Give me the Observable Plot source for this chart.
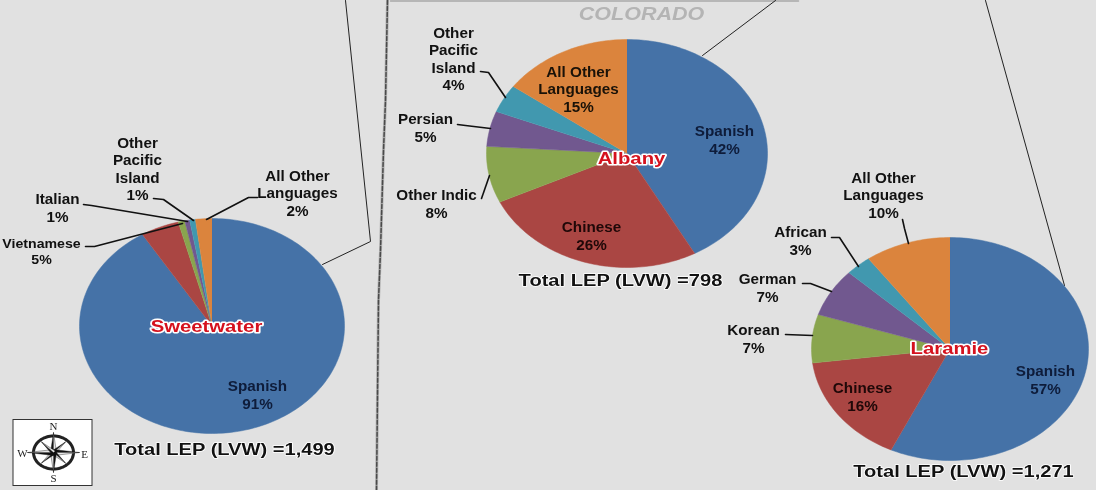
<!DOCTYPE html>
<html>
<head>
<meta charset="utf-8">
<style>
html,body{margin:0;padding:0;background:#e1e1e1;overflow:hidden}
svg{display:block}
</style>
<script src="https://cdn.jsdelivr.net/npm/d3@7"></script>
<script src="https://cdn.jsdelivr.net/npm/@observablehq/plot@0.6"></script>
</head>
<body>
<div id="chart"></div>
<script>
// ---- data ----
const sweetwaterLanguages = ["Spanish", "Vietnamese", "Italian", "Unlabeled", "Other Pacific Island", "All Other Languages"];
const sweetwaterShares = [91.2, 4.7, 0.8, 0.6, 0.7, 2.0];
const albanyLanguages = ["Spanish", "Chinese", "Other Indic", "Persian", "Other Pacific Island", "All Other Languages"];
const albanyShares = [42, 26, 8, 5, 4, 15];
const laramieLanguages = ["Spanish", "Chinese", "Korean", "German", "African", "All Other Languages"];
const laramieShares = [57, 16, 7, 7, 3, 10];
const sliceColors = ["#4572a7", "#aa4643", "#89a54e", "#71588f", "#4198af", "#db843d"];

// ---- layout (pixel space of the page) ----
const W = 1096, H = 490;
const pies = [
  {name: "Sweetwater", languages: sweetwaterLanguages, shares: sweetwaterShares, cx: 211.5, cy: 325.5, rx: 132.5, ry: 107.5},
  {name: "Albany", languages: albanyLanguages, shares: albanyShares, cx: 626.5, cy: 153, rx: 140.5, ry: 114},
  {name: "Laramie", languages: laramieLanguages, shares: laramieShares, cx: 949.5, cy: 348.5, rx: 138.5, ry: 111.5}
];
const labels = [
  {t: "Other\nPacific\nIsland\n1%", x: 137, y: 168},
  {t: "All Other\nLanguages\n2%", x: 297, y: 192},
  {t: "Italian\n1%", x: 57, y: 207},
  {t: "Vietnamese\n5%", x: 41, y: 250, s: 13},
  {t: "Spanish\n91%", x: 257, y: 394, f: "#0e1c3a"},
  {t: "Other\nPacific\nIsland\n4%", x: 453, y: 58},
  {t: "All Other\nLanguages\n15%", x: 578, y: 88, f: "#1a1208"},
  {t: "Persian\n5%", x: 425, y: 127},
  {t: "Other Indic\n8%", x: 436, y: 203},
  {t: "Spanish\n42%", x: 724, y: 139, f: "#0e1c3a"},
  {t: "Chinese\n26%", x: 591, y: 235, f: "#1f0808"},
  {t: "All Other\nLanguages\n10%", x: 883, y: 194},
  {t: "African\n3%", x: 800, y: 240},
  {t: "German\n7%", x: 767, y: 287},
  {t: "Korean\n7%", x: 753, y: 338},
  {t: "Spanish\n57%", x: 1045, y: 379, f: "#0e1c3a"},
  {t: "Chinese\n16%", x: 862, y: 396, f: "#1f0808"}
];
const countyNames = [
  {t: "Sweetwater", x: 206, y: 326, s: 16.5},
  {t: "Albany", x: 631, y: 158, s: 16.5},
  {t: "Laramie", x: 949, y: 348, s: 16.5}
];
const totals = [
  {t: "Total LEP (LVW) =1,499", x: 224, y: 449},
  {t: "Total LEP (LVW) =798", x: 620, y: 280},
  {t: "Total LEP (LVW) =1,271", x: 963, y: 471}
];
const leaders = [
  [[153,198],[163,199],[193,220]],
  [[257,197],[248,197],[206,219]],
  [[83,204],[91,205],[187,221]],
  [[85,246],[94,246],[182,223]],
  [[480,71],[488,72],[505,97]],
  [[457,124],[465,125],[490,128]],
  [[481,198],[489,175]],
  [[902,219],[904,228],[908,243]],
  [[831,237],[839,237],[858,266]],
  [[802,283],[810,283],[831,291]],
  [[785,334],[812,335]]
];
const callouts = [
  [[345,0],[370,241],[322,264]],
  [[775,0],[702,55]],
  [[985,0],[1064,285]]
];
const borderLine = [[387,0],[385,100],[383,150],[380,250],[378,300],[376,490]];
const topLine = [[390,0.5],[798,0.5]];
// horizontal stretch of the source image's lettering, per text group
const textStretch = {labels: 1.09, state: 1.23, county: 1.23, total: 1.257};

// ---- derived geometry ----
const toRows = (paths) => paths.flatMap((p, i) => p.map(([x, y]) => ({i, x, y})));

const sliceRows = pies.flatMap((pie) => {
  const arcs = d3.pie().sort(null)(pie.shares);
  return arcs.flatMap((a, k) => {
    const steps = Math.max(2, Math.ceil((a.endAngle - a.startAngle) * 40));
    const pts = [{x: pie.cx, y: pie.cy}];
    for (let s = 0; s <= steps; ++s) {
      const t = a.startAngle + (a.endAngle - a.startAngle) * s / steps;
      pts.push({x: pie.cx + pie.rx * Math.sin(t), y: pie.cy - pie.ry * Math.cos(t)});
    }
    return pts.map((p) => ({...p, slice: pie.name + "/" + pie.languages[k], rank: k}));
  });
});

// compass rose inside its box
const cmp = {x: 53, y: 452};
const ring = d3.range(0, 73).map((k) => {
  const t = k / 72 * 2 * Math.PI;
  return {x: cmp.x + 20 * Math.cos(t), y: cmp.y + 16.5 * Math.sin(t)};
});
const star = [];
d3.range(8).forEach((k) => {
  const long = k % 2 === 0;
  const t = k / 8 * 2 * Math.PI;
  const Lx = long ? 26 : 17, Ly = long ? 20 : 15, w = long ? 3 : 2.2;
  const tip = [cmp.x + Lx * Math.sin(t), cmp.y - Ly * Math.cos(t)];
  const a = [cmp.x + w * Math.sin(t - Math.PI / 2), cmp.y - w * Math.cos(t - Math.PI / 2)];
  const b = [cmp.x + w * Math.sin(t + Math.PI / 2), cmp.y - w * Math.cos(t + Math.PI / 2)];
  [a, tip, [cmp.x, cmp.y]].forEach((p) => star.push({z: "d" + k, fillc: "#111", x: p[0], y: p[1]}));
  [b, tip, [cmp.x, cmp.y]].forEach((p) => star.push({z: "l" + k, fillc: "#e8e8e8", x: p[0], y: p[1]}));
});
const compassLetters = [
  {t: "N", x: 53, y: 426}, {t: "S", x: 53, y: 478},
  {t: "W", x: 22, y: 453}, {t: "E", x: 84, y: 454}
];

const sans = "'Liberation Sans', Arial, sans-serif";
const groupNames = ["labels", "state", "county", "total"];

const plot = Plot.plot({
  width: W, height: H,
  marginTop: 0, marginRight: 0, marginBottom: 0, marginLeft: 0,
  x: {domain: [0, W], range: [0, W], axis: null},
  y: {domain: [0, H], range: [0, H], axis: null},
  color: {type: "ordinal", domain: d3.range(6), range: sliceColors},
  style: {background: "#e1e1e1", overflow: "hidden", filter: "blur(0.3px)"},
  marks: [
    // map lines
    Plot.line(borderLine.map(([x, y]) => ({x, y})), {x: "x", y: "y", stroke: "#b0b0b0", strokeWidth: 3}),
    Plot.line(borderLine.map(([x, y]) => ({x, y})), {x: "x", y: "y", stroke: "#4a4a4a", strokeWidth: 1.5, strokeDasharray: "4,2"}),
    Plot.line(topLine.map(([x, y]) => ({x, y})), {x: "x", y: "y", stroke: "#a8a8a8", strokeWidth: 1.5}),
    Plot.line(toRows(callouts), {x: "x", y: "y", z: "i", stroke: "#222", strokeWidth: 1}),
    // pies
    Plot.line(sliceRows, {x: "x", y: "y", z: "slice", fill: "rank", stroke: "rank", strokeWidth: 0.5}),
    // leaders
    Plot.line(toRows(leaders), {x: "x", y: "y", z: "i", stroke: "#111", strokeWidth: 1.6}),
    // category labels
    Plot.text(labels, {x: "x", y: "y", text: "t", fill: (d) => d.f || "#111", fontSize: (d) => d.s || 14, fontWeight: "bold", fontFamily: sans, lineHeight: 1.25}),
    // state name
    Plot.text([{t: "COLORADO", x: 641, y: 14}], {x: "x", y: "y", text: "t", fill: "#b4b4b4", fontSize: 17.5, fontWeight: "bold", fontStyle: "italic", fontFamily: sans}),
    // county names
    Plot.text(countyNames, {x: "x", y: "y", text: "t", fontSize: "s", fontWeight: "bold", fontFamily: sans, fill: "#d5121e", stroke: "white", strokeWidth: 3, paintOrder: "stroke"}),
    // totals
    Plot.text(totals, {x: "x", y: "y", text: "t", fontSize: 16, fontWeight: "bold", fontFamily: sans, fill: "#111", stroke: "white", strokeWidth: 1.5, paintOrder: "stroke"}),
    // compass box
    Plot.rect([{x1: 13, x2: 92, y1: 419.5, y2: 485.5}], {x1: "x1", x2: "x2", y1: "y1", y2: "y2", fill: "white", stroke: "#333", strokeWidth: 1}),
    Plot.line(ring, {x: "x", y: "y", stroke: "#222", strokeWidth: 3}),
    Plot.line(star, {x: "x", y: "y", z: "z", fill: (d) => d.fillc, stroke: "#111", strokeWidth: 0.4}),
    Plot.text(compassLetters, {x: "x", y: "y", text: "t", fontSize: 11, fontFamily: "'Liberation Serif', serif", fill: "#222"})
  ]
});
// stretch lettering horizontally, group by group, as in the source image
d3.select(plot).selectAll('g[aria-label="text"]').each(function (_, i) {
  const k = textStretch[groupNames[i]];
  if (!k) return;
  d3.select(this).selectAll("text").attr("transform", function () {
    return (this.getAttribute("transform") || "") + ` scale(${k},1)`;
  });
});
document.getElementById("chart").appendChild(plot);
</script>
</body>
</html>
